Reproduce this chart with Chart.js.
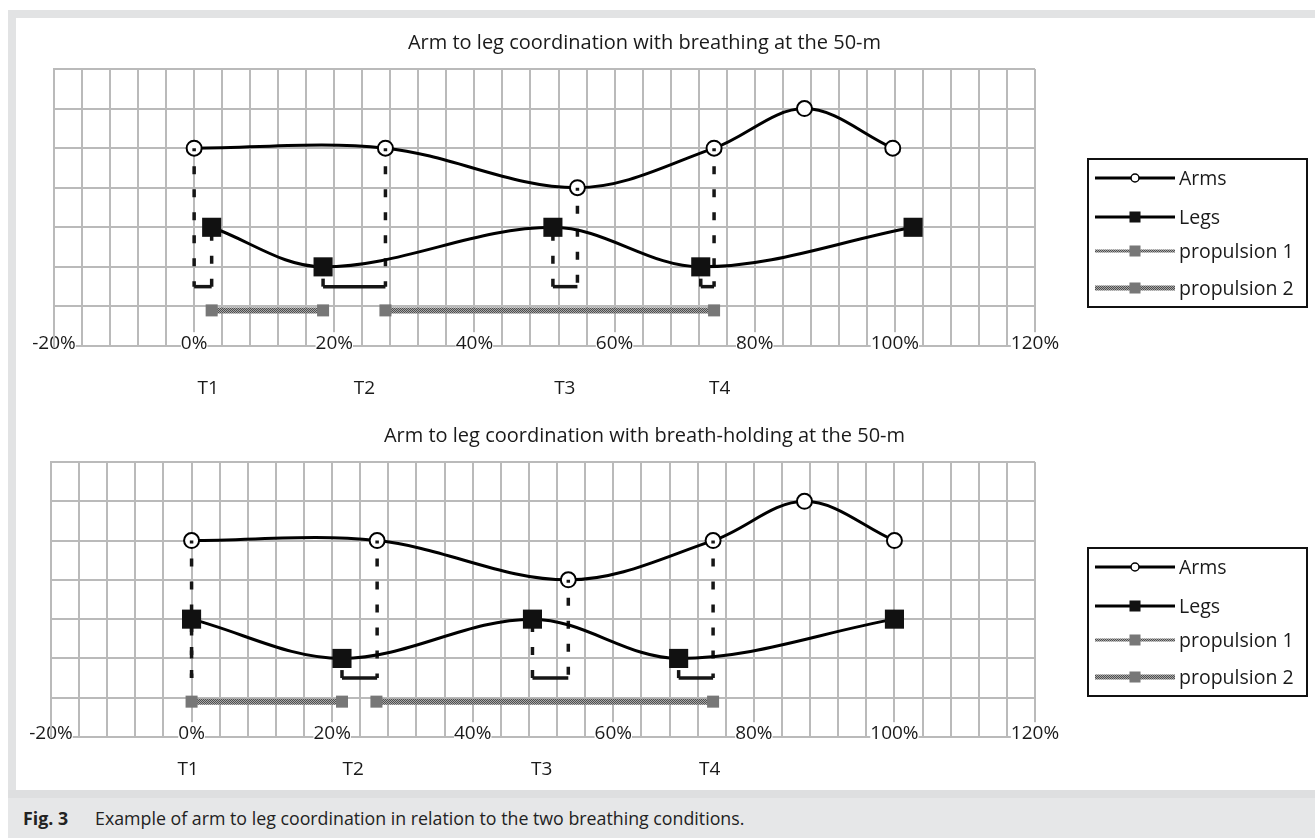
<!DOCTYPE html>
<html>
<head>
<meta charset="utf-8">
<script src="https://cdn.jsdelivr.net/npm/chart.js@4/dist/chart.umd.min.js"></script>
<style>
  html,body{margin:0;padding:0;background:#fff;width:1315px;height:838px;overflow:hidden;font-family:'Open Sans',sans-serif}
  .frame{position:absolute;left:8px;top:10px;width:1330px;height:788px;box-sizing:border-box;border:8px solid #e2e3e4;border-bottom:none}
  .caption{position:absolute;left:8px;top:790px;width:1310px;height:48px;background:#e6e7e8;border-top:8px solid #dedfe0;box-sizing:border-box;font-size:17.8px;color:#222;line-height:40px}
  .caption b{position:absolute;left:15px;font-weight:700}
  .caption span{position:absolute;left:87px}
  canvas{position:absolute;left:0}
</style>
</head>
<body>
<div class="frame"></div>
<canvas id="c1" width="1315" height="400" style="top:0"></canvas>
<canvas id="c2" width="1315" height="390" style="top:400px"></canvas>
<div class="caption"><b>Fig. 3</b><span>Example of arm to leg coordination in relation to the two breathing conditions.</span></div>

<script>
// ---- data (x in % of cycle, y in grid units) ----
const phaseLabels = ['T1', 'T2', 'T3', 'T4'];
const seriesNames = ['Arms', 'Legs', 'propulsion 1', 'propulsion 2'];
const xTicks = [-20, 0, 20, 40, 60, 80, 100, 120];

// breathing
const brArmsX = [0, 27.3, 54.7, 74.2, 87.1, 99.7];
const brArmsY = [5, 5, 4, 5, 6, 5];
const brLegsX = [2.5, 18.4, 51.2, 72.3, 102.6];
const brLegsY = [3, 2, 3, 2, 3];
const brProp1X = [2.5, 18.4];
const brProp2X = [27.3, 74.2];
const brPhaseX = [2, 24.3, 52.9, 75];

// breath-holding
const bhArmsX = [0, 26.4, 53.6, 74.2, 87.2, 100];
const bhArmsY = [5, 5, 4, 5, 6, 5];
const bhLegsX = [0, 21.4, 48.5, 69.3, 100];
const bhLegsY = [3, 2, 3, 2, 3];
const bhProp1X = [0, 21.4];
const bhProp2X = [26.3, 74.2];
const bhPhaseX = [-0.5, 23, 49.8, 73.7];

const propLevel = 0.9;
const bracketLevel = 1.5;

// textured grey for the propulsion lines
function ropePattern() {
  const p = document.createElement('canvas');
  p.width = 4; p.height = 4;
  const c = p.getContext('2d');
  c.fillStyle = '#a8a8a8'; c.fillRect(0, 0, 4, 4);
  c.fillStyle = '#4e4e4e';
  for (let i = 0; i < 4; i++) { c.fillRect(i, i, 1, 1); c.fillRect((i + 2) % 4, i, 1, 1); }
  return c.createPattern(p, 'repeat');
}
const rope = ropePattern();

const pts = (xs, ys) => xs.map((x, i) => ({x: x, y: Array.isArray(ys) ? ys[i] : ys}));

// legend drawn as a framed box like the original
const boxLegend = {
  id: 'boxLegend',
  afterDraw(chart, args, o) {
    const ctx = chart.ctx;
    ctx.save();
    ctx.strokeStyle = '#111'; ctx.lineWidth = 2;
    ctx.strokeRect(o.left, o.top, o.width, o.height);
    const sets = seriesNames.map(n => chart.data.datasets.find(d => d.label === n));
    sets.forEach((ds, i) => {
      const y = o.top + o.rows[i];
      const x0 = o.left + 7, x1 = o.left + 87, xm = (x0 + x1) / 2;
      ctx.setLineDash([]);
      ctx.strokeStyle = ds.borderColor; ctx.lineWidth = ds.legendLine;
      ctx.beginPath(); ctx.moveTo(x0, y); ctx.lineTo(x1, y); ctx.stroke();
      if (ds.pointStyle === 'circle') {
        ctx.fillStyle = '#fff'; ctx.strokeStyle = '#000'; ctx.lineWidth = 1.5;
        ctx.beginPath(); ctx.arc(xm, y, 4, 0, Math.PI * 2); ctx.fill(); ctx.stroke();
      } else {
        ctx.fillStyle = ds.pointBackgroundColor;
        ctx.fillRect(xm - 5.5, y - 5.5, 11, 11);
      }
      ctx.fillStyle = '#1a1a1a';
      ctx.font = "19.5px 'Open Sans'";
      ctx.textBaseline = 'middle';
      ctx.fillText(ds.label, o.left + 91, y + 1);
    });
    ctx.restore();
  }
};

function drops(armsX, armsY, legsX, legsY) {
  // dashed drop from arm and leg marker to a bracket, per phase T1..T4
  return phaseLabels.map((t, i) => ({
    label: 'drop ' + t,
    data: [
      {x: armsX[i], y: armsY[i]}, {x: armsX[i], y: bracketLevel},
      {x: legsX[i], y: bracketLevel}, {x: legsX[i], y: legsY[i]}
    ],
    borderColor: '#151515', borderWidth: 3.5, pointRadius: 0, tension: 0,
    borderDash: [8, 15],
    segment: {
      borderDash: ctx => ctx.p0DataIndex === 1 ? [] : [8, 15],
      borderDashOffset: ctx => ctx.p0DataIndex === 0 ? 5 : 0
    }
  }));
}

function makeChart(id, title, d, lay) {
  const grid = {color: '#bababa', lineWidth: 2, drawTicks: false};
  return new Chart(document.getElementById(id), {
    type: 'line',
    data: {
      datasets: [
        {label: 'Legs', data: pts(d.legsX, d.legsY), borderColor: '#000', borderWidth: 3, tension: 0.35,
         pointStyle: 'rect', pointRadius: 13.5, pointBackgroundColor: '#111', pointBorderWidth: 0, legendLine: 3},
        ...drops(d.armsX, d.armsY, d.legsX, d.legsY),
        {label: 'Arms', data: pts(d.armsX, d.armsY), borderColor: '#000', borderWidth: 3, tension: 0.35,
         pointStyle: 'circle', pointRadius: 7.5, pointBackgroundColor: '#fff', pointBorderColor: '#000', pointBorderWidth: 2, legendLine: 3},
        {label: 'propulsion 1', data: pts(d.prop1X, propLevel), borderColor: rope, borderWidth: 6, tension: 0,
         pointStyle: 'rect', pointRadius: 8.5, pointBackgroundColor: '#777', pointBorderWidth: 0, legendLine: 3},
        {label: 'propulsion 2', data: pts(d.prop2X, propLevel), borderColor: rope, borderWidth: 6, tension: 0,
         pointStyle: 'rect', pointRadius: 8.5, pointBackgroundColor: '#777', pointBorderWidth: 0, legendLine: 5}
      ]
    },
    options: {
      responsive: false, animation: false, events: [],
      layout: {padding: {left: 8, right: 34, top: 0, bottom: 0}},
      font: {family: "'Open Sans', sans-serif"},
      plugins: {
        legend: {display: false}, tooltip: {enabled: false},
        title: {display: true, text: title, color: '#1a1a1a', font: {family: "'Open Sans'", size: 20, weight: 'normal'},
                padding: {top: lay.titleTop, bottom: 14}},
        boxLegend: {left: 1088, top: lay.legendTop, width: 219, height: 148, rows: [19, 58, 92, 129]}
      },
      scales: {
        x: {
          type: 'linear', min: -20, max: 120, position: 'bottom', weight: 0,
          grid: grid, border: {color: '#bababa', width: 2},
          afterFit: s => { s.height = 0; },
          ticks: {
            stepSize: 4, autoSkip: false, maxRotation: 0, mirror: true, padding: lay.tickPad,
            color: '#1a1a1a', font: {family: "'Open Sans'", size: 19},
            showLabelBackdrop: true, backdropColor: '#fff', backdropPadding: 0,
            callback: v => xTicks.includes(v) ? v + '%' : ''
          }
        },
        xT: {
          type: 'linear', min: -20, max: 120, position: 'bottom', weight: 1,
          grid: {display: false, drawTicks: false}, border: {display: false},
          afterFit: s => { s.height = lay.tHeight; },
          afterBuildTicks: s => { s.ticks = d.phaseX.map(v => ({value: v})); },
          ticks: {autoSkip: false, maxRotation: 0, padding: lay.tPad, color: '#1a1a1a',
                  font: {family: "'Open Sans'", size: 19}, callback: (v, i) => phaseLabels[i]}
        },
        y: {
          type: 'linear', min: 0, max: 7, position: 'left',
          grid: grid, border: {color: '#bababa', width: 2},
          ticks: {display: false, stepSize: 1},
          afterFit: s => { s.width = lay.yWidth; }
        },
        yR: {
          type: 'linear', position: 'right', grid: {display: false}, border: {display: false},
          ticks: {display: false},
          afterFit: s => { s.width = 246; }
        }
      }
    },
    plugins: [boxLegend]
  });
}

makeChart('c1', 'Arm to leg coordination with breathing at the 50-m',
  {armsX: brArmsX, armsY: brArmsY, legsX: brLegsX, legsY: brLegsY, prop1X: brProp1X, prop2X: brProp2X, phaseX: brPhaseX},
  {titleTop: 31, legendTop: 159, tickPad: -9, tHeight: 54, tPad: 31.6, yWidth: 46});

makeChart('c2', 'Arm to leg coordination with breath-holding at the 50-m',
  {armsX: bhArmsX, armsY: bhArmsY, legsX: bhLegsX, legsY: bhLegsY, prop1X: bhProp1X, prop2X: bhProp2X, phaseX: bhPhaseX},
  {titleTop: 24, legendTop: 148, tickPad: -8, tHeight: 53, tPad: 21.6, yWidth: 43});
</script>
</body>
</html>
